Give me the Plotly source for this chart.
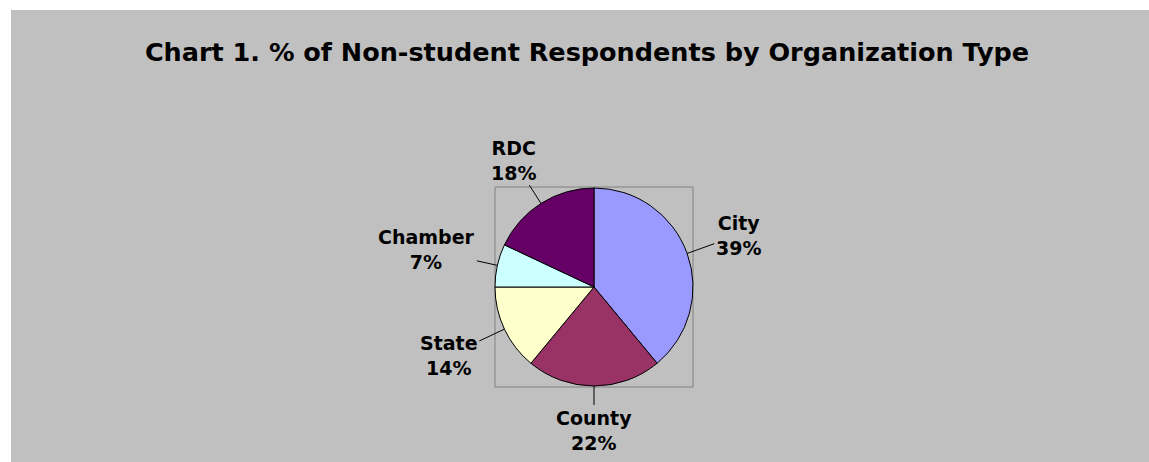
import math
import plotly.graph_objects as go

W, H = 1149, 462

categories = ["City", "County", "State", "Chamber", "RDC"]
values = [39, 22, 14, 7, 18]
colors = ["#9999FF", "#993366", "#FFFFCC", "#CCFFFF", "#660066"]
title_text = "Chart 1. % of Non-student Respondents by Organization Type"

FONT = "DejaVu Sans"
LABEL_SIZE = 19


def px_x(px):
    return px / W


def px_y(py):
    return 1 - py / H


# pie box (plot area) in pixels
box_l, box_r, box_t, box_b = 495, 693, 187, 387

fig = go.Figure()
fig.add_trace(go.Pie(
    labels=categories,
    values=values,
    sort=False,
    direction="clockwise",
    rotation=0,
    marker=dict(colors=colors, line=dict(color="black", width=1)),
    textinfo="none",
    showlegend=False,
    hoverinfo="label+percent",
    domain=dict(x=[px_x(box_l), px_x(box_r)], y=[px_y(box_b), px_y(box_t)]),
))

shapes = [
    dict(type="rect", xref="paper", yref="paper", x0=px_x(11), x1=1, y0=0, y1=px_y(10),
         fillcolor="#C0C0C0", line=dict(width=0), layer="below"),
    dict(type="rect", xref="paper", yref="paper", x0=px_x(box_l), x1=px_x(box_r),
         y0=px_y(box_b), y1=px_y(box_t), line=dict(color="#808080", width=1),
         fillcolor="rgba(0,0,0,0)", layer="below"),
]

# outside labels with leader lines, placed from the slice mid-angles
cx, cy = (box_l + box_r) / 2, (box_t + box_b) / 2
r = (box_r - box_l) / 2
total = sum(values)
annotations = []
cum = 0
gap = 22
for lab, v in zip(categories, values):
    mid = (cum + v / 2) / total * 2 * math.pi
    cum += v
    sx, sy = math.sin(mid), -math.cos(mid)
    pct = f"{round(v / total * 100)}%"
    nchar = max(len(lab), len(pct))
    hw = 0.35 * LABEL_SIZE * nchar
    hh = 22
    dist = gap + hw * abs(sx) + hh * abs(sy)
    ex, ey = cx + r * sx, cy + r * sy
    annotations.append(dict(
        x=px_x(ex), y=px_y(ey), xref="paper", yref="paper",
        ax=dist * sx, ay=dist * sy,
        text=f"<b>{lab}</b><br><b>{pct}</b>",
        showarrow=True, arrowhead=0, arrowwidth=1, arrowcolor="black",
        standoff=0, startstandoff=0,
        font=dict(family=FONT, size=LABEL_SIZE, color="black"),
        align="center",
    ))

fig.update_layout(
    width=W, height=H,
    margin=dict(l=0, r=0, t=0, b=0),
    paper_bgcolor="white",
    plot_bgcolor="white",
    shapes=shapes,
    annotations=annotations,
    title=dict(text="<b>" + title_text + "</b>", x=px_x(587), y=px_y(52),
               xanchor="center", yanchor="middle",
               font=dict(family=FONT, size=25.5, color="black")),
)

fig.write_html("out.html")
